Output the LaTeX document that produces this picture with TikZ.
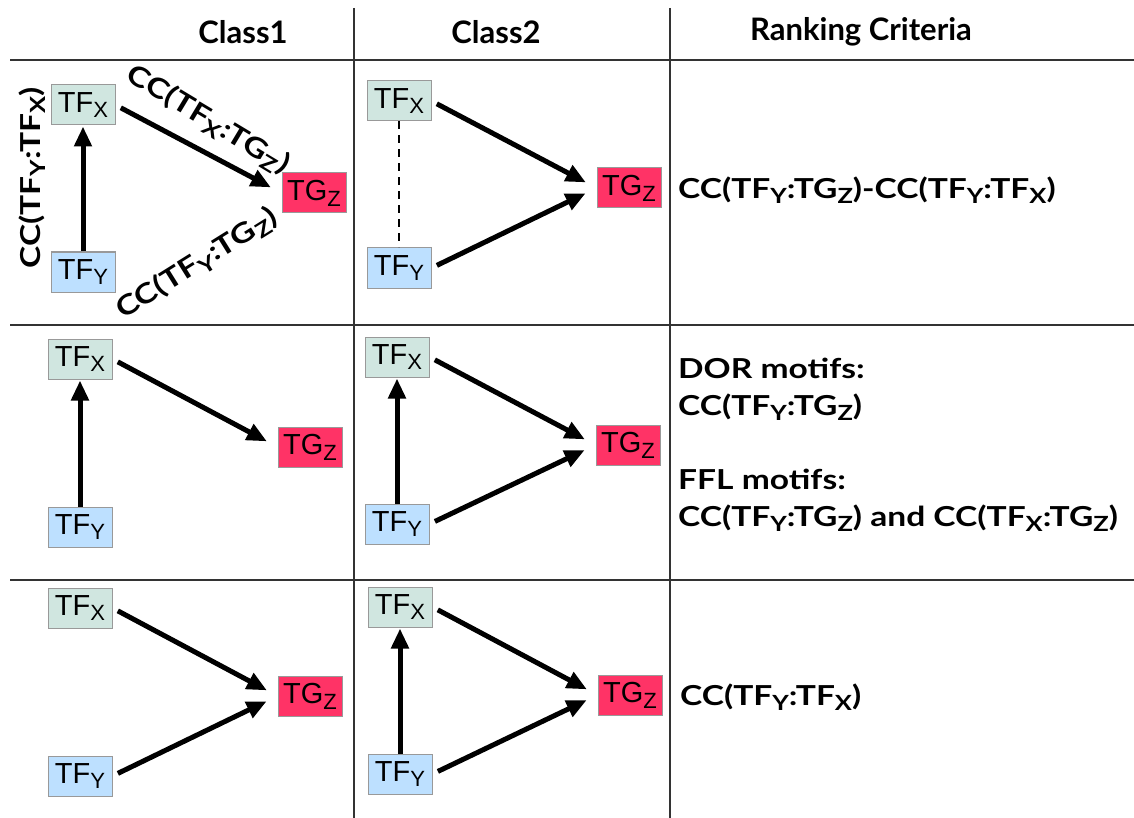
\documentclass[tikz,border=0pt]{standalone}
\usepackage{fontspec}
\setmainfont{Liberation Sans}
\newfontfamily\boldlabel[FakeStretch=1.22]{Lato}
\newfontfamily\headlabel{Lato}
\usetikzlibrary{arrows.meta}
\definecolor{tfxcol}{HTML}{D0E6E0}
\definecolor{tfycol}{HTML}{BDE0FF}
\definecolor{tgzcol}{HTML}{FF3366}
\newcommand{\lo}[1]{\raisebox{-0.2em}{\scalebox{0.76}{#1}}}
\tikzstyle{box} = [rectangle, minimum width=64pt, minimum height=40pt, inner sep=0pt, draw=black!40, line width=1pt, font=\fontsize{29}{30}\selectfont]
\tikzstyle{tfx} = [box, fill=tfxcol]
\tikzstyle{tfy} = [box, fill=tfycol]
\tikzstyle{tgz} = [box, fill=tgzcol]
\tikzstyle{arrow} = [line width=5pt, -{Triangle[length=20pt,width=17pt]}, shorten <=6pt, shorten >=12pt]
\tikzstyle{uparrow} = [line width=5pt, -{Triangle[length=20pt,width=17pt]}, shorten >=1pt]
\tikzstyle{cc} = [inner sep=0pt, font=\boldlabel\bfseries\fontsize{27.5}{37}\selectfont]
\tikzstyle{head} = [inner sep=0pt, font=\headlabel\bfseries\fontsize{31}{34}\selectfont]
\tikzstyle{grid} = [line width=1.2pt, black!80]

\begin{document}
\begin{tikzpicture}[x=1pt, y=-1pt]
\useasboundingbox (0,0) rectangle (1134,818);

% table
\draw [grid] (10,60) -- (1134,60);
\draw [grid] (10,325) -- (1134,325);
\draw [grid] (10,580) -- (1134,580);
\draw [grid] (354,8) -- (354,818);
\draw [grid] (670,8) -- (670,818);
\node (h1) [head] at (243,32) {Class1};
\node (h2) [head] at (496,32) {Class2};
\node (h3) [head] at (861,32) {Ranking Criteria};

% row 1
\node (x1) [tfx] at (83,105) {TF\lo{X}};
\node (y1) [tfy] at (83,272) {TF\lo{Y}};
\node (z1) [tgz] at (314,193) {TG\lo{Z}};
\draw [uparrow] (y1) -- (x1);
\draw [arrow] (x1.east) -- (z1.west);
\node (l1) [cc, rotate=90] at (32,178) {CC(TF\lo{Y}:TF\lo{X})};
\node (l2) [cc, rotate=-31] at (208,120) {CC(TF\lo{X}:TG\lo{Z})};
\node (l3) [cc, rotate=32] at (197,264) {CC(TF\lo{Y}:TG\lo{Z})};

\node (x2) [tfx] at (399,101) {TF\lo{X}};
\node (y2) [tfy] at (399,268) {TF\lo{Y}};
\node (z2) [tgz] at (629,188) {TG\lo{Z}};
\draw [dash pattern=on 8pt off 6pt, line width=2.5pt] (x2) -- (y2);
\draw [arrow] (x2.east) -- (z2.west);
\draw [arrow] (y2.east) -- (z2.west);

\node (r1) [cc, anchor=west] at (678,190) {CC(TF\lo{Y}:TG\lo{Z})-CC(TF\lo{Y}:TF\lo{X})};

% row 2
\node (x3) [tfx] at (80,359) {TF\lo{X}};
\node (y3) [tfy] at (80,527) {TF\lo{Y}};
\node (z3) [tgz] at (310,447) {TG\lo{Z}};
\draw [uparrow] (y3) -- (x3);
\draw [arrow] (x3.east) -- (z3.west);

\node (x4) [tfx] at (397,357) {TF\lo{X}};
\node (y4) [tfy] at (397,524) {TF\lo{Y}};
\node (z4) [tgz] at (628,445) {TG\lo{Z}};
\draw [uparrow] (y4) -- (x4);
\draw [arrow] (x4.east) -- (z4.west);
\draw [arrow] (y4.east) -- (z4.west);

\node (r2) [cc, anchor=west, align=left] at (678,445) {DOR motifs:\\CC(TF\lo{Y}:TG\lo{Z})\\[37pt]FFL motifs:\\CC(TF\lo{Y}:TG\lo{Z}) and CC(TF\lo{X}:TG\lo{Z})};

% row 3
\node (x5) [tfx] at (80,608) {TF\lo{X}};
\node (y5) [tfy] at (80,776) {TF\lo{Y}};
\node (z5) [tgz] at (310,696) {TG\lo{Z}};
\draw [arrow] (x5.east) -- (z5.west);
\draw [arrow] (y5.east) -- (z5.west);

\node (x6) [tfx] at (400,607) {TF\lo{X}};
\node (y6) [tfy] at (400,774) {TF\lo{Y}};
\node (z6) [tgz] at (630,695) {TG\lo{Z}};
\draw [uparrow] (y6) -- (x6);
\draw [arrow] (x6.east) -- (z6.west);
\draw [arrow] (y6.east) -- (z6.west);

\node (r3) [cc, anchor=west] at (680,697) {CC(TF\lo{Y}:TF\lo{X})};

\end{tikzpicture}
\end{document}
